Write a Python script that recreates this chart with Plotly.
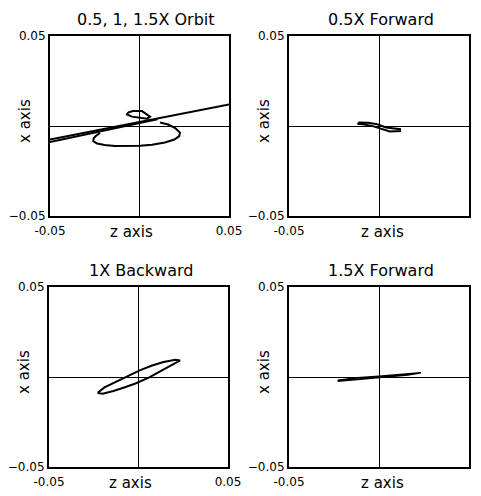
import plotly.graph_objects as go

# Orbit traces in the (z, x) plane, one list pair per path
# Combined orbit panel
orbit_line_a_z = [-0.0500, -0.0250, 0.0000, 0.0250, 0.0500]
orbit_line_a_x = [-0.0075, -0.0026, 0.0022, 0.0070, 0.0119]
orbit_line_b_z = [-0.0500, -0.0300, -0.0100, 0.0100]
orbit_line_b_x = [-0.0089, -0.0048, -0.0006, 0.0038]
orbit_loop_z = [0.0115, 0.0160, 0.0200, 0.0226, 0.0222, 0.0195, 0.0142, 0.0070, 0.0003, -0.0070,
                -0.0137, -0.0195, -0.0237, -0.0258, -0.0256, -0.0240, -0.0220]
orbit_loop_x = [0.0019, 0.0008, -0.0012, -0.0036, -0.0056, -0.0075, -0.0092, -0.0104, -0.0110, -0.0112,
                -0.0111, -0.0106, -0.0097, -0.0084, -0.0068, -0.0052, -0.0039]
orbit_small_z = [-0.0064, -0.0036, 0.0014, 0.0036, 0.0059, 0.0042, 0.0003, -0.0042, -0.0070, -0.0064]
orbit_small_x = [0.0075, 0.0083, 0.0083, 0.0069, 0.0052, 0.0041, 0.0047, 0.0052, 0.0064, 0.0075]

# 0.5X forward
fwd05_z = [-0.0115, -0.0060, -0.0010, 0.0040, 0.0117, 0.0117, 0.0060, 0.0020, -0.0030, -0.0080, -0.0115, -0.0115]
fwd05_x = [0.0020, 0.0018, 0.0010, -0.0008, -0.0018, -0.0028, -0.0030, -0.0018, -0.0002, 0.0008, 0.0012, 0.0020]

# 1X backward
bwd1_z = [0.0233, 0.0206, 0.0140, 0.0076, 0.0010, -0.0054, -0.0130, -0.0190, -0.0224,
          -0.0224, -0.0200, -0.0140, -0.0080, -0.0017, 0.0060, 0.0132, 0.0190, 0.0233]
bwd1_x = [0.0092, 0.0096, 0.0083, 0.0064, 0.0038, 0.0008, -0.0028, -0.0058, -0.0085,
          -0.0090, -0.0093, -0.0078, -0.0058, -0.0036, -0.0002, 0.0036, 0.0068, 0.0092]

# 1.5X forward
fwd15_z = [-0.0230, -0.0120, 0.0000, 0.0120, 0.0233, 0.0160, 0.0050, -0.0080, -0.0180, -0.0230]
fwd15_x = [-0.0018, -0.0004, 0.0004, 0.0016, 0.0024, 0.0012, 0.0002, -0.0010, -0.0022, -0.0024]

panel_titles = ["0.5, 1, 1.5X Orbit", "0.5X Forward", "1X Backward", "1.5X Forward"]
axis_range = [-0.05, 0.05]
tick_values = [-0.05, 0.05]
x_tick_labels = ["-0.05", "0.05"]
y_tick_labels = ["\u22120.05", "0.05"]

W, H = 481, 496
FONT = "DejaVu Sans"

# Plot boxes in pixels: (left, right, top, bottom)
boxes = [(50, 229, 36, 216), (289, 469, 36, 216), (49, 228, 287, 467), (289, 469, 287, 467)]

paths = [
    [(orbit_line_a_z, orbit_line_a_x), (orbit_line_b_z, orbit_line_b_x),
     (orbit_loop_z, orbit_loop_x), (orbit_small_z, orbit_small_x)],
    [(fwd05_z, fwd05_x)],
    [(bwd1_z, bwd1_x)],
    [(fwd15_z, fwd15_x)],
]
line_widths = [2, 2, 2, 1.6]

fig = go.Figure()
layout = dict(
    template="none",
    width=W, height=H,
    margin=dict(l=0, r=0, t=0, b=0, autoexpand=False),
    paper_bgcolor="white", plot_bgcolor="white",
    showlegend=False,
    font=dict(family=FONT, color="black"),
)

annotations = []
for i, (box, plist) in enumerate(zip(boxes, paths)):
    n = "" if i == 0 else str(i + 1)
    l, r, t, b = box
    for zs, xs in plist:
        fig.add_trace(go.Scatter(
            x=zs, y=xs, mode="lines",
            line=dict(color="black", width=line_widths[i]),
            xaxis="x" + n, yaxis="y" + n, hoverinfo="skip",
        ))
    ax_common = dict(
        range=axis_range, tickvals=tick_values, automargin=False,
        showgrid=False, zeroline=True, zerolinecolor="black", zerolinewidth=1,
        showline=True, mirror=True, linecolor="black", linewidth=2, ticks="",
    )
    layout["xaxis" + n] = dict(ax_common, domain=[l / W, r / W], anchor="y" + n,
                               ticktext=x_tick_labels, ticklabelstandoff=3,
                               tickfont=dict(family=FONT, size=12, color="black"))
    layout["yaxis" + n] = dict(ax_common, domain=[1 - b / H, 1 - t / H], anchor="x" + n,
                               ticktext=y_tick_labels,
                               tickfont=dict(family=FONT, size=12, color="black"))

    cx = (l + r) / 2
    # panel title
    annotations.append(dict(
        text=panel_titles[i], x=(cx + (6 if i == 0 else 2)) / W, y=1 - (t - 17) / H,
        xref="paper", yref="paper", xanchor="center", yanchor="middle",
        showarrow=False, font=dict(family=FONT, size=16, color="black"),
    ))
    # horizontal axis title
    annotations.append(dict(
        text="z axis", x=(cx - 8 if i % 2 == 0 else cx + 3) / W, y=1 - (b + 16) / H,
        xref="paper", yref="paper", xanchor="center", yanchor="middle",
        showarrow=False, font=dict(family=FONT, size=15, color="black"),
    ))
    # vertical axis title
    annotations.append(dict(
        text="x axis", x=(l - 25) / W, y=1 - ((t + b) / 2 - 5) / H,
        xref="paper", yref="paper", xanchor="center", yanchor="middle",
        textangle=-90, showarrow=False, font=dict(family=FONT, size=15, color="black"),
    ))

layout["annotations"] = annotations
fig.update_layout(**layout)
fig.write_html("out.html")
